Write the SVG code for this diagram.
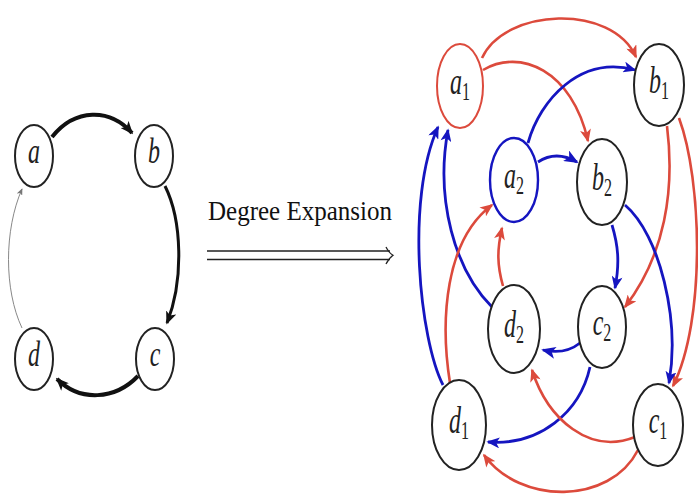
<svg xmlns="http://www.w3.org/2000/svg" width="698" height="501" viewBox="0 0 698 501">
<style>
.nd{fill:#fff;stroke:#222;stroke-width:2}
.lbl{font-family:"Liberation Serif","DejaVu Serif",serif;font-style:italic;font-size:24px;fill:#222}
.sub{font-style:normal;font-size:16px}
.e{fill:none;stroke-linecap:butt}
.r{stroke:#dc4a3c;stroke-width:2.6}
.b{stroke:#1515c0;stroke-width:2.8}
.k{stroke:#111}
</style>
<defs>
<marker id="mr" viewBox="0 0 12 10" markerWidth="14" markerHeight="11" markerUnits="userSpaceOnUse" refX="10.5" refY="5" orient="auto"><path d="M0,0 L12,5 L0,10 L3,5 z" fill="#dc4a3c"/></marker>
<marker id="mb" viewBox="0 0 12 10" markerWidth="14" markerHeight="11" markerUnits="userSpaceOnUse" refX="10.5" refY="5" orient="auto"><path d="M0,0 L12,5 L0,10 L3,5 z" fill="#1515c0"/></marker>
<marker id="mbb" viewBox="0 0 12 10" markerWidth="15" markerHeight="12" markerUnits="userSpaceOnUse" refX="10.5" refY="5" orient="auto"><path d="M0,0 L12,5 L0,10 L3,5 z" fill="#1515c0"/></marker>
<marker id="mk" viewBox="0 0 12 10" markerWidth="13" markerHeight="11" markerUnits="userSpaceOnUse" refX="10.5" refY="5" orient="auto"><path d="M0,0 L12,5 L0,10 L3,5 z" fill="#111"/></marker>
<marker id="mg" viewBox="0 0 12 10" markerWidth="7" markerHeight="6" markerUnits="userSpaceOnUse" refX="10.5" refY="5" orient="auto"><path d="M0,0 L12,5 L0,10 L3,5 z" fill="#777"/></marker>
</defs>
<rect width="698" height="501" fill="#fff"/>

<g id="connectors">
<!-- left graph -->
<path class="e k" d="M52,137 C75,108 110,108 132,133" stroke-width="4" marker-end="url(#mk)"/>
<path class="e k" d="M165,186 C182,220 184,280 167,323" stroke-width="3" marker-end="url(#mk)"/>
<path class="e k" d="M138,376 C115,400 80,402 57,379" stroke-width="4" marker-end="url(#mk)"/>
<path class="e" d="M22,328 C4,290 4,230 22,189" stroke="#888" stroke-width="1" marker-end="url(#mg)"/>
<!-- expansion arrow -->
<path class="e" d="M207,251 H390 M207,259.5 H390" stroke="#222" stroke-width="1.3"/>
<path class="e" d="M386,247 Q389,253 393,255.2 Q389,258 386,264" stroke="#222" stroke-width="1.3"/>
<!-- right graph: a -> b -->
<path class="e r" d="M482,58 C505,8 612,3 636,57" marker-end="url(#mr)"/>
<path class="e r" d="M483,70 C520,48 572,70 588,141" marker-end="url(#mr)"/>
<path class="e b" d="M528,143 C540,100 580,55 635,70" marker-end="url(#mb)"/>
<path class="e b" d="M538,162 Q556,150 577,162" stroke-width="4" marker-end="url(#mbb)"/>
<!-- b -> c -->
<path class="e r" d="M667,126 C675,190 665,255 625,307" marker-end="url(#mr)"/>
<path class="e r" d="M679,118 C702,180 706,320 673,386" marker-end="url(#mr)"/>
<path class="e b" d="M612,225 C618,245 620,262 615,288" marker-end="url(#mb)"/>
<path class="e b" d="M625,205 C660,235 680,320 669,383" marker-end="url(#mb)"/>
<!-- c -> d -->
<path class="e b" d="M580,343 Q565,355 543,350" stroke-width="4" marker-end="url(#mbb)"/>
<path class="e b" d="M590,367 C580,412 540,446 488,442" marker-end="url(#mb)"/>
<path class="e r" d="M635,437 C590,455 548,420 532,370" marker-end="url(#mr)"/>
<path class="e r" d="M638,450 C610,505 520,505 484,455" marker-end="url(#mr)"/>
<!-- d -> a -->
<path class="e b" d="M443,385 C420,340 405,200 438,127" marker-end="url(#mb)"/>
<path class="e b" d="M492,307 C455,270 435,200 448,130" marker-end="url(#mb)"/>
<path class="e r" d="M450,383 C440,320 445,240 492,205" marker-end="url(#mr)"/>
<path class="e r" d="M503,286 C497,265 497,250 502,228" marker-end="url(#mr)"/>
</g>

<!-- left nodes -->
<g id="a"><ellipse class="nd" cx="34" cy="156" rx="19" ry="31"/><g transform="translate(34,156) scale(1,1.45)"><text class="lbl" x="0" y="4.5" text-anchor="middle" font-size="22">a</text></g></g>
<g id="b"><ellipse class="nd" cx="154" cy="156" rx="19" ry="31"/><g transform="translate(154,156) scale(1,1.45)"><text class="lbl" x="0" y="4.5" text-anchor="middle" font-size="22">b</text></g></g>
<g id="c"><ellipse class="nd" cx="155" cy="359" rx="19" ry="31"/><g transform="translate(155,359) scale(1,1.45)"><text class="lbl" x="0" y="4.5" text-anchor="middle" font-size="22">c</text></g></g>
<g id="d"><ellipse class="nd" cx="34" cy="359" rx="19" ry="31"/><g transform="translate(34,359) scale(1,1.45)"><text class="lbl" x="0" y="4.5" text-anchor="middle" font-size="22">d</text></g></g>

<g id="label"><g transform="translate(208,220) scale(1,1.14)"><text x="0" y="0" font-family="Liberation Serif, DejaVu Serif, serif" font-size="24" fill="#111" textLength="184" lengthAdjust="spacingAndGlyphs">Degree Expansion</text></g></g>

<!-- right nodes -->
<g id="a1"><ellipse class="nd" cx="460" cy="86" rx="23" ry="42" style="stroke:#dc4a3c"/><g transform="translate(460,86) scale(1,1.6)"><text class="lbl" x="0" y="5.3" text-anchor="middle">a<tspan class="sub" dy="3.5">1</tspan></text></g></g>
<g id="b1"><ellipse class="nd" cx="659" cy="85" rx="25" ry="41"/><g transform="translate(659,85) scale(1,1.6)"><text class="lbl" x="0" y="5.3" text-anchor="middle">b<tspan class="sub" dy="3.5">1</tspan></text></g></g>
<g id="a2"><ellipse class="nd" cx="514" cy="180" rx="24" ry="42" style="stroke:#1515c0;stroke-width:2.4"/><g transform="translate(514,180) scale(1,1.6)"><text class="lbl" x="0" y="5.3" text-anchor="middle">a<tspan class="sub" dy="3.5">2</tspan></text></g></g>
<g id="b2"><ellipse class="nd" cx="602" cy="182" rx="25" ry="43"/><g transform="translate(602,182) scale(1,1.6)"><text class="lbl" x="0" y="5.3" text-anchor="middle">b<tspan class="sub" dy="3.5">2</tspan></text></g></g>
<g id="c2"><ellipse class="nd" cx="602" cy="327" rx="24" ry="41"/><g transform="translate(602,327) scale(1,1.6)"><text class="lbl" x="0" y="5.3" text-anchor="middle">c<tspan class="sub" dy="3.5">2</tspan></text></g></g>
<g id="d2"><ellipse class="nd" cx="514" cy="329" rx="26" ry="44"/><g transform="translate(514,329) scale(1,1.6)"><text class="lbl" x="0" y="5.3" text-anchor="middle">d<tspan class="sub" dy="3.5">2</tspan></text></g></g>
<g id="d1"><ellipse class="nd" cx="459" cy="425" rx="27" ry="45"/><g transform="translate(459,425) scale(1,1.6)"><text class="lbl" x="0" y="5.3" text-anchor="middle">d<tspan class="sub" dy="3.5">1</tspan></text></g></g>
<g id="c1"><ellipse class="nd" cx="658" cy="425" rx="25" ry="41"/><g transform="translate(658,425) scale(1,1.6)"><text class="lbl" x="0" y="5.3" text-anchor="middle">c<tspan class="sub" dy="3.5">1</tspan></text></g></g>
</svg>
